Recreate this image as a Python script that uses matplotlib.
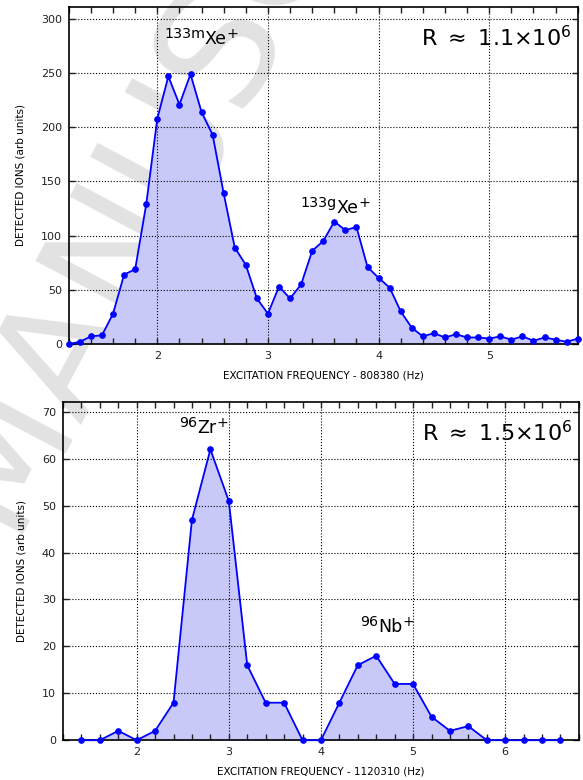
import numpy as np
import matplotlib
matplotlib.use("Agg")
from matplotlib import pyplot as plt
from matplotlib.ticker import MultipleLocator

# data ----------------------------------------------------------------
xe_freq = [1.2, 1.3, 1.4, 1.5, 1.6, 1.7, 1.8, 1.9, 2.0, 2.1, 2.2, 2.3, 2.4,
           2.5, 2.6, 2.7, 2.8, 2.9, 3.0, 3.1, 3.2, 3.3, 3.4, 3.5, 3.6, 3.7,
           3.8, 3.9, 4.0, 4.1, 4.2, 4.3, 4.4, 4.5, 4.6, 4.7, 4.8, 4.9, 5.0,
           5.1, 5.2, 5.3, 5.4, 5.5, 5.6, 5.7, 5.8]
xe_ions = [0, 2, 7, 8, 28, 64, 69, 129, 208, 247, 221, 249, 214,
           193, 139, 89, 73, 42, 28, 53, 42, 55, 86, 95, 113, 105,
           108, 71, 61, 52, 30, 15, 7, 10, 6, 9, 6, 6, 5,
           7, 4, 7, 3, 6, 4, 2, 5]

zr_freq = [1.4, 1.6, 1.8, 2.0, 2.2, 2.4, 2.6, 2.8, 3.0, 3.2, 3.4, 3.6,
           3.8, 4.0, 4.2, 4.4, 4.6, 4.8, 5.0, 5.2, 5.4, 5.6, 5.8, 6.0,
           6.2, 6.4, 6.6]
zr_ions = [0, 0, 2, 0, 2, 8, 47, 62, 51, 16, 8, 8,
           0, 0, 8, 16, 18, 12, 12, 5, 2, 3, 0, 0,
           0, 0, 0]

# style ------------------------------------------------------------------
LINE = '#0000ff'
FILL = '#c9c9f9'

plt.rcParams['font.family'] = 'DejaVu Sans'
plt.rcParams['mathtext.fontset'] = 'dejavusans'

fig = plt.figure(figsize=(5.83, 7.80), dpi=100)

# watermark, sits behind the plots
fig.text(0.02, 0.41, 'ACCEPTED MANUSCRIPT', rotation=62, rotation_mode='anchor',
         ha='center', va='center', fontsize=115, color='#e2e2e2', zorder=-1)

ax1 = fig.add_axes([0.118, 0.559, 0.873, 0.432])
ax2 = fig.add_axes([0.108, 0.051, 0.885, 0.433])


def style_axes(ax, xlim, ylim, ystep, xlabel):
    ax.patch.set_alpha(0)
    ax.set_zorder(1)
    ax.set_xlim(*xlim)
    ax.set_ylim(*ylim)
    ax.xaxis.set_major_locator(MultipleLocator(1))
    ax.xaxis.set_minor_locator(MultipleLocator(0.2))
    ax.yaxis.set_major_locator(MultipleLocator(ystep))
    ax.tick_params(which='both', direction='in', top=True, right=True,
                   length=4.5, width=1.0, labelsize=8, colors='#222222',
                   pad=5)
    ax.tick_params(which='minor', length=4)
    ax.grid(True, which='major', color='black', linestyle=':', linewidth=0.8)
    for sp in ax.spines.values():
        sp.set_linewidth(1.2)
    ax.set_xlabel(xlabel, fontsize=7.5, labelpad=7)
    ax.set_ylabel('DETECTED IONS (arb units)', fontsize=7.5, labelpad=11)


def draw(ax, x, y):
    ax.fill_between(x, 0, y, color=FILL, linewidth=0, zorder=1)
    ax.plot(x, y, color=LINE, linewidth=1.3, marker='o', markersize=3.8,
            zorder=3, clip_on=False)


def isotope(ax, x, y, mass, elem):
    # x, y = centre / baseline of the element symbol
    t = ax.text(x, y, elem, fontsize=12.5, ha='center', va='baseline')
    ax.annotate(mass, xy=(0, 0.39), xycoords=t, ha='right', va='bottom',
                fontsize=10.3)
    ax.annotate('+', xy=(1, 0.39), xycoords=t, ha='left', va='bottom',
                fontsize=10.3)


# top panel: Xe
draw(ax1, xe_freq, xe_ions)
style_axes(ax1, (1.2, 5.8), (0, 311), 50, 'EXCITATION FREQUENCY - 808380 (Hz)')
isotope(ax1, 2.53, 276.5, '133m', 'Xe')
isotope(ax1, 3.716, 120.6, '133g', 'Xe')
ax1.text(0.987, 0.91, r'R $\approx$ 1.1$\times$10$^{6}$', transform=ax1.transAxes,
         fontsize=16, ha='right', va='center')

# bottom panel: Zr / Nb
draw(ax2, zr_freq, zr_ions)
style_axes(ax2, (1.2, 6.8), (0, 72), 10, 'EXCITATION FREQUENCY - 1120310 (Hz)')
isotope(ax2, 2.763, 65.45, '96', 'Zr')
isotope(ax2, 4.757, 23.1, '96', 'Nb')
ax2.text(0.987, 0.91, r'R $\approx$ 1.5$\times$10$^{6}$', transform=ax2.transAxes,
         fontsize=16, ha='right', va='center')

fig.savefig('out.png', dpi=100)
